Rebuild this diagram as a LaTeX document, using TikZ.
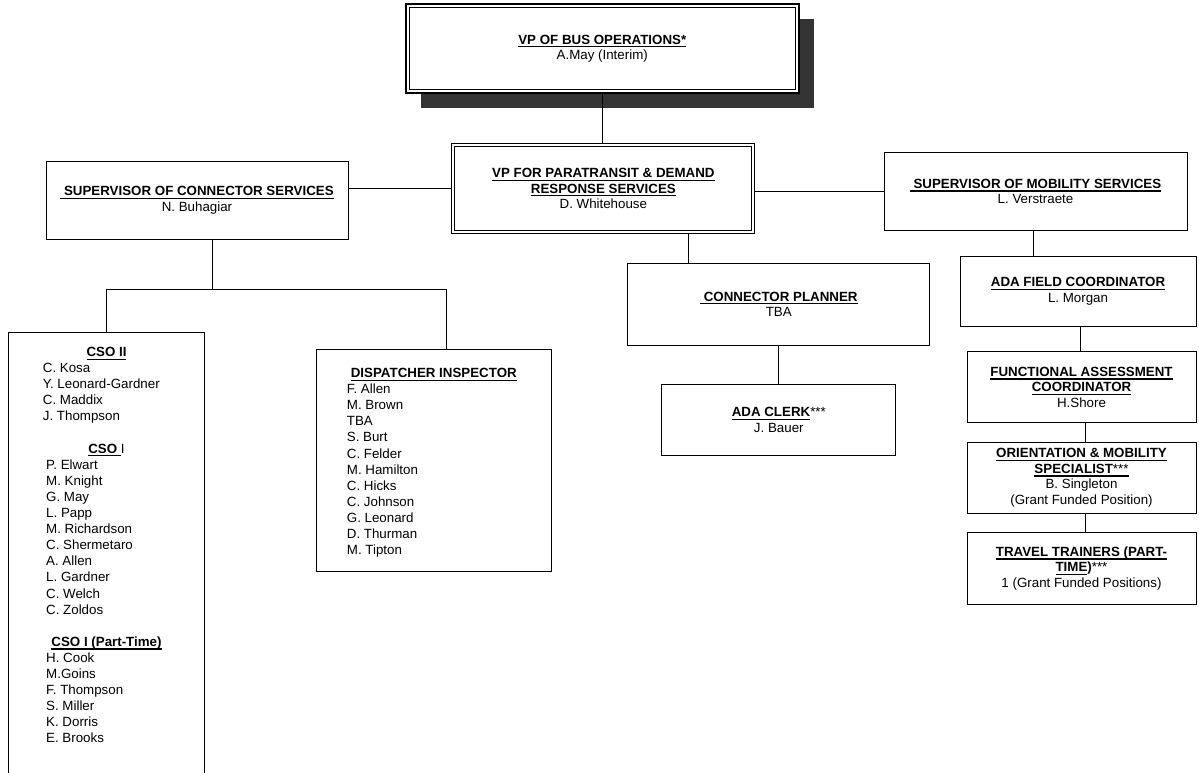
\documentclass[tikz,border=0pt]{standalone}
\usepackage{fontspec}
\setmainfont{Liberation Sans}
\usetikzlibrary{shadows}
\newcommand\fsz{\fontsize{13.33}{15.5}\selectfont}
\newsavebox\myulbox
\newcommand\myul[1]{\sbox\myulbox{\bfseries #1}\rlap{\raisebox{-3.3pt}{\rule{\wd\myulbox}{1.3pt}}}\usebox\myulbox}
\begin{document}
\begin{tikzpicture}[x=1pt,y=-1pt,
  box/.style={draw, fill=white, inner sep=0pt, align=center, font=\fsz, line width=1pt},
  conn/.style={draw, line width=1pt},
  item/.style={anchor=base west, inner sep=0pt, font=\fsz},
  hdr/.style={anchor=base, inner sep=0pt, font=\fsz},
  topbox/.style={box, line width=2pt,
    drop shadow={shadow xshift=15pt, shadow yshift=-15pt, fill=black!80, opacity=1, draw=none},
    path picture={\draw[line width=0.8pt]
      ([xshift=3.3pt,yshift=-3.3pt]path picture bounding box.north west) rectangle
      ([xshift=-3.3pt,yshift=3.3pt]path picture bounding box.south east);}},
  dblbox/.style={box, line width=0.9pt,
    path picture={\draw[line width=0.9pt]
      ([xshift=3pt,yshift=-3pt]path picture bounding box.north west) rectangle
      ([xshift=-3pt,yshift=3pt]path picture bounding box.south east);}}]
\useasboundingbox (0,0) rectangle (1199,773);
\clip (0,0) rectangle (1199,773);

% boxes
\node[topbox, minimum width=392.5pt, minimum height=89pt] (top) at (602.25,48.5)
  {\myul{VP OF BUS OPERATIONS*}\\A.May (Interim)};
\node[dblbox, minimum width=303pt, minimum height=90.5pt] (vp) at (603.35,188.6)
  {\myul{VP FOR PARATRANSIT \& DEMAND}\\\myul{RESPONSE SERVICES}\\D. Whitehouse};
\node[box, minimum width=302pt, minimum height=78pt] (lsup) at (197,200)
  {\myul{\ SUPERVISOR OF CONNECTOR SERVICES}\\N. Buhagiar};
\node[box, minimum width=303pt, minimum height=77.3pt] (rsup) at (1035.5,191.4)
  {\myul{\ SUPERVISOR OF MOBILITY SERVICES}\\L. Verstraete};
\node[box, minimum width=302.3pt, minimum height=81.7pt] (cp) at (778.8,304.2)
  {\myul{\ CONNECTOR PLANNER}\\TBA};
\node[box, minimum width=234.3pt, minimum height=71.4pt] (clerk) at (778.8,420)
  {\myul{ADA CLERK}***\\J. Bauer};
\node[box, minimum width=236pt, minimum height=70pt] (adaf) at (1078,291)
  {\myul{ADA FIELD COORDINATOR}\\L. Morgan};
\node[box, minimum width=229pt, minimum height=71pt] (fa) at (1081.5,387.2)
  {\myul{FUNCTIONAL ASSESSMENT}\\\myul{COORDINATOR}\\H.Shore};
\node[box, minimum width=229pt, minimum height=71.3pt] (om) at (1081.5,477.7)
  {\myul{ORIENTATION \& MOBILITY}\\\myul{SPECIALIST{\mdseries***}}\\B. Singleton\\(Grant Funded Position)};
\node[box, minimum width=229pt, minimum height=71.6pt] (tt) at (1081.5,568.5)
  {\myul{TRAVEL TRAINERS (PART-}\\\myul{TIME}\textbf{)}***\\1 (Grant Funded Positions)};
\node[box, minimum width=196pt, minimum height=470pt, anchor=north] (cso) at (106.3,331.7) {};
\node[box, minimum width=235pt, minimum height=222.7pt] (disp) at (434.2,460.6) {};

% connectors
\draw[conn] (top.south) -- (top.south |- vp.north);
\draw[conn] (vp.west) -- (vp.west -| lsup.east);
\draw[conn] (vp.east |- rsup.west) -- (rsup.west);
\draw[conn] ([xshift=-90.8pt]cp.north) -- ([xshift=-90.8pt]cp.north |- vp.south);
\draw[conn] (cp.south) -- (clerk.north);
\draw[conn] ([xshift=-2.5pt]rsup.south) -- ([xshift=-2.5pt]rsup.south |- adaf.north);
\draw[conn] ([xshift=2pt]adaf.south) -- ([xshift=2pt]adaf.south |- fa.north);
\draw[conn] ([xshift=3.5pt]fa.south) -- ([xshift=3.5pt]fa.south |- om.north);
\draw[conn] ([xshift=3.5pt]om.south) -- ([xshift=3.5pt]om.south |- tt.north);
\path ([xshift=15.5pt]lsup.south) ++(0,50.3) coordinate (bj);
\draw[conn] ([xshift=15.5pt]lsup.south) -- (bj);
\draw[conn] (cso.north) |- (bj) -| ([xshift=12.5pt]disp.north);

% CSO list
\node[hdr] (csoh1) at (106.5,356.5) {\myul{CSO II}};
\foreach \t [count=\i from 1] in {C. Kosa, Y. Leonard-Gardner, C. Maddix, J. Thompson}
  \node[item] (csoA\i) at (42.7, 356.5+16.1*\i) {\t};
\node[hdr] (csoh2) at (106.5,453.1) {\myul{CSO }I};
\foreach \t [count=\i from 7] in {P. Elwart, M. Knight, G. May, L. Papp, M. Richardson, C. Shermetaro, A. Allen, L. Gardner, C. Welch, C. Zoldos}
  \node[item] (csoB\i) at (46, 356.5+16.1*\i) {\t};
\node[hdr] (csoh3) at (106.5,646.3) {\myul{CSO I (Part-Time)}};
\foreach \t [count=\i from 19] in {H. Cook, M.Goins, F. Thompson, S. Miller, K. Dorris, E. Brooks}
  \node[item] (csoC\i) at (46, 356.5+16.1*\i) {\t};

% Dispatcher list
\node[hdr] (disph) at (433.8,377.5) {\myul{DISPATCHER INSPECTOR}};
\foreach \t [count=\i from 1] in {F. Allen, M. Brown, TBA, S. Burt, C. Felder, M. Hamilton, C. Hicks, C. Johnson, G. Leonard, D. Thurman, M. Tipton}
  \node[item] (dispA\i) at (346.7, 377.5+16.1*\i) {\t};
\end{tikzpicture}
\end{document}
